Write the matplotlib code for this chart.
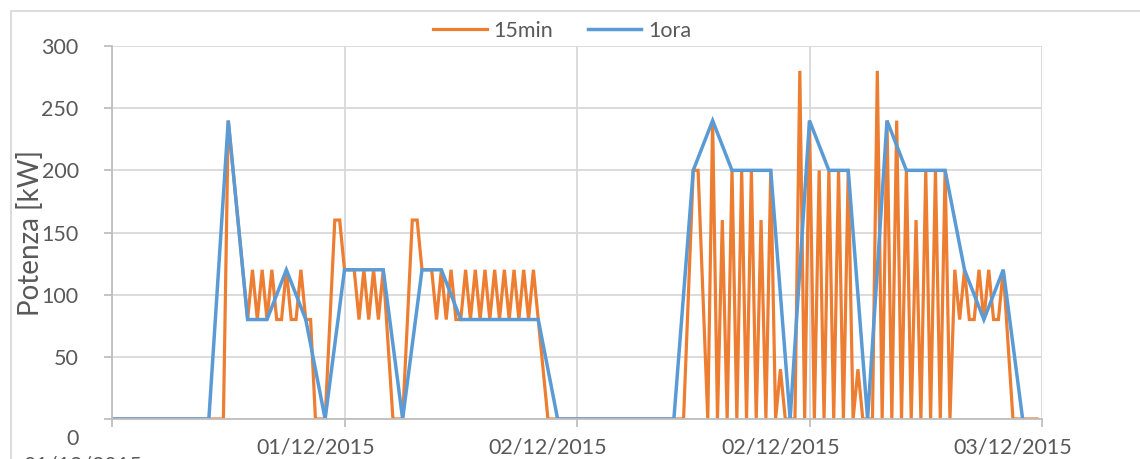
#!/usr/bin/env python3
"""
Potenza a 15 minuti e a 1 ora, 01/12/2015 - 03/12/2015.
"""

import matplotlib
matplotlib.use('Agg')
import matplotlib.pyplot as plt
import matplotlib.transforms as mtransforms
from matplotlib.patches import Rectangle
import numpy as np

plt.rcParams['font.family'] = ['Lato', 'DejaVu Sans']

# Potenza [kW], un valore ogni 15 minuti (192 campioni = 2 giorni)
p_15min = (
    [0] * 24
    + [240, 200, 160, 120, 80]
    + [120, 80, 120, 80, 120, 80, 80, 120, 80, 80, 120, 80, 80]
    + [0, 0, 0, 80, 160, 160, 120, 120, 120]
    + [80, 120, 80, 120, 80, 120, 60, 0, 0, 0]
    + [80, 160, 160, 120, 120, 120, 80, 120, 80, 120, 80, 80]
    + [120, 80, 120, 80, 120, 80, 120, 80, 120, 80, 120, 80, 120, 80, 120, 80]
    + [40]
    + [0] * 29
    + [100, 200, 200, 100, 0]
    + [240, 0, 160, 0, 200, 0, 200, 0, 200, 0, 160, 0, 200, 0, 40, 0, 0, 0]
    + [280, 0, 240, 0, 200, 0, 200, 0, 200, 0, 200, 0, 40, 0, 0, 0]
    + [280, 0, 240, 0, 240, 0, 200, 0, 160, 0, 200, 0, 200, 0, 200, 0]
    + [120, 80, 120, 80, 80, 120, 80, 120, 80, 80, 120, 60]
    + [0] * 6
)

# Potenza [kW], un valore ogni ora (48 campioni)
p_1ora = (
    [0] * 6
    + [240, 80, 80, 120, 80, 0, 120, 120, 120, 0, 120, 120, 80, 80, 80, 80, 80, 0]
    + [0] * 6
    + [200, 240, 200, 200, 200, 0, 240, 200, 200, 0, 240, 200, 200, 200, 120, 80, 120, 0]
)

x_labels = ['01/12/2015', '01/12/2015', '02/12/2015', '02/12/2015', '03/12/2015']
y_ticks = [0, 50, 100, 150, 200, 250, 300]

x_15 = np.arange(len(p_15min))          # quarti d'ora
x_1h = np.arange(len(p_1ora)) * 4       # ore, sulla stessa scala

W, H = 1140, 459
fig = plt.figure(figsize=(W / 100, H / 100), dpi=100)
ax = fig.add_axes([112 / W, 1 - 419 / H, (1042 - 112) / W, (419 - 46) / H])

orange = '#ED7D31'
blue = '#5B9BD5'
grid_c = '#D9D9D9'
axis_c = '#BFBFBF'
text_c = '#595959'
fs = 15.5

ax.plot(x_15, p_15min, color=orange, lw=2.3, label='15min', solid_joinstyle='miter')
ax.plot(x_1h, p_1ora, color=blue, lw=2.5, label='1ora', solid_joinstyle='miter')

ax.set_xlim(0, 192)
ax.set_ylim(0, 300)
ax.set_yticks(y_ticks)
ax.set_xticks(np.arange(0, 193, 48))
ax.set_xticklabels([])
ax.grid(True, color=grid_c, lw=1.3)
ax.set_axisbelow(True)

for s in ['top', 'right']:
    ax.spines[s].set_visible(False)
for s in ['left', 'bottom']:
    ax.spines[s].set_color(axis_c)
    ax.spines[s].set_linewidth(1.3)

ax.tick_params(axis='both', colors=axis_c, width=1.3, length=6, labelcolor=text_c,
               labelsize=fs)
ax.tick_params(axis='y', pad=18)

# lo "0" nell'originale sta piu' in basso
zero_lab = ax.get_yticklabels()[0]
zero_lab.set_transform(zero_lab.get_transform()
                       + mtransforms.ScaledTranslation(0, -0.18, fig.dpi_scale_trans))

# etichette date spostate a sinistra come nell'originale
for i, lab in enumerate(x_labels):
    xt = i * 48
    yoff = -37 if i == 0 else -18
    tr = mtransforms.blended_transform_factory(ax.transData, ax.transAxes)
    tr = tr + mtransforms.ScaledTranslation(-29 / 100, yoff / 100, fig.dpi_scale_trans)
    ax.text(xt, 0, lab, transform=tr, ha='center', va='top', fontsize=fs,
            color=text_c, clip_on=False)

ax.set_ylabel('Potenza [kW]', fontsize=20, color=text_c)
ax.yaxis.set_label_coords((31 - 112) / (1042 - 112), 0.5)
ax.yaxis.label.set_va('center')

ax.legend(loc='center', bbox_to_anchor=(562 / W, 1 - 31 / H),
          bbox_transform=fig.transFigure, ncol=2, frameon=False, fontsize=fs,
          handlelength=2.5, handletextpad=0.3, columnspacing=1.6,
          labelcolor=text_c)

# bordo dell'area grafico (tagliato dallo screenshot)
fig.patches.append(Rectangle((11 / W, -0.1), 1.2, 1 - 11 / H + 0.1,
                             transform=fig.transFigure, fill=False,
                             edgecolor=grid_c, lw=1.3))

fig.savefig('out.png', dpi=100)
